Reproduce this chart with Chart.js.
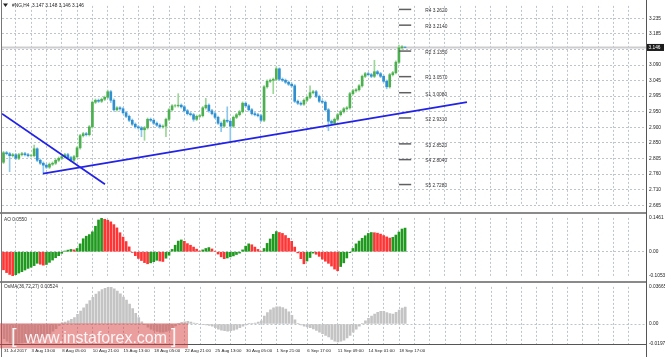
<!DOCTYPE html>
<html><head><meta charset="utf-8">
<script src="https://cdn.jsdelivr.net/npm/chart.js@4/dist/chart.umd.min.js"></script>
<style>
html,body{margin:0;padding:0;background:#fff;width:665px;height:357px;overflow:hidden}
canvas{position:absolute;left:0}
</style></head><body>
<canvas id="main" width="665" height="212" style="top:0"></canvas>
<canvas id="ao" width="665" height="70" style="top:212px"></canvas>
<canvas id="osma" width="665" height="76" style="top:281px"></canvas>
<script>
// ---------- DATA ----------
const SYMBOL_HEADER = '#NG,H4  3.147 3.148 3.146 3.146';
const LAST_PRICE = 3.146;
const OPEN = [2.796,2.825,2.822,2.816,2.819,2.808,2.819,2.822,2.819,2.816,
 2.816,2.837,2.802,2.793,2.787,2.781,2.790,2.793,2.802,2.808,
 2.813,2.819,2.810,2.802,2.813,2.840,2.877,2.883,2.880,2.904,
 2.979,2.985,2.982,2.988,2.994,3.011,2.985,2.956,2.962,2.959,
 2.947,2.936,2.924,2.912,2.904,2.901,2.895,2.901,2.927,2.924,
 2.915,2.909,2.904,2.906,2.927,2.956,2.968,2.968,2.970,2.965,
 2.953,2.944,2.941,2.927,2.936,2.938,2.962,2.970,2.953,2.944,
 2.933,2.915,2.906,2.924,2.921,2.906,2.933,2.941,2.950,2.976,
 2.968,2.956,2.944,2.941,2.938,2.924,3.026,3.043,3.046,3.049,
 3.081,3.049,3.046,3.040,3.034,3.029,2.982,2.976,2.973,2.985,
 2.994,3.008,3.011,2.997,2.982,2.979,2.956,2.921,2.915,2.927,
 2.941,2.950,2.959,2.962,3.005,3.014,3.017,3.029,3.058,3.066,
 3.063,3.058,3.072,3.066,3.058,3.043,3.026,3.063,3.069,3.101,
 3.145,3.147];
const HIGH = [2.829,2.829,2.826,2.823,2.823,2.823,2.826,2.826,2.823,2.820,
 2.848,2.840,2.806,2.797,2.791,2.794,2.797,2.806,2.812,2.817,
 2.823,2.823,2.814,2.817,2.844,2.881,2.887,2.887,2.908,2.983,
 2.989,2.989,2.992,2.998,3.016,3.015,2.989,2.966,2.966,2.963,
 2.951,2.940,2.928,2.916,2.908,2.905,2.905,2.931,2.931,2.928,
 2.919,2.913,2.910,2.931,2.960,2.972,2.972,3.005,2.974,2.969,
 2.957,2.948,2.945,2.940,2.942,2.966,2.991,2.974,2.957,2.948,
 2.937,2.919,2.928,2.965,2.925,2.937,2.945,2.954,2.980,2.980,
 2.972,2.960,2.948,2.945,2.942,3.030,3.047,3.050,3.053,3.087,
 3.084,3.053,3.050,3.044,3.038,3.033,2.986,2.980,2.989,2.998,
 3.029,3.015,3.015,3.001,2.986,2.983,2.960,2.925,2.931,2.945,
 2.954,2.963,2.966,3.009,3.018,3.021,3.033,3.062,3.070,3.070,
 3.067,3.107,3.076,3.070,3.062,3.047,3.067,3.073,3.105,3.153,
 3.152,3.148];
const LOW = [2.792,2.818,2.767,2.812,2.804,2.804,2.815,2.815,2.812,2.812,
 2.812,2.798,2.789,2.761,2.777,2.777,2.786,2.789,2.798,2.804,
 2.809,2.806,2.798,2.798,2.809,2.836,2.873,2.876,2.876,2.900,
 2.975,2.978,2.978,2.984,2.990,2.978,2.952,2.952,2.955,2.943,
 2.932,2.920,2.908,2.900,2.897,2.874,2.863,2.897,2.920,2.911,
 2.905,2.900,2.900,2.874,2.923,2.952,2.964,2.964,2.961,2.949,
 2.940,2.937,2.921,2.923,2.932,2.934,2.958,2.949,2.940,2.929,
 2.911,2.889,2.902,2.917,2.860,2.902,2.929,2.937,2.946,2.964,
 2.952,2.940,2.937,2.934,2.920,2.920,3.022,3.039,3.005,3.045,
 3.045,3.042,3.036,3.030,3.025,2.978,2.972,2.969,2.969,2.981,
 2.990,3.004,2.993,2.978,2.975,2.952,2.892,2.911,2.911,2.923,
 2.937,2.946,2.955,2.958,3.001,3.010,3.013,3.025,3.054,3.059,
 3.054,3.054,3.062,3.054,3.039,3.020,3.022,3.059,3.065,3.097,
 3.141,3.146];
const CLOSE = [2.825,2.822,2.816,2.819,2.808,2.819,2.822,2.819,2.816,2.816,
 2.837,2.802,2.793,2.787,2.781,2.790,2.793,2.802,2.808,2.813,
 2.819,2.810,2.802,2.813,2.840,2.877,2.883,2.880,2.904,2.979,
 2.985,2.982,2.988,2.994,3.011,2.985,2.956,2.962,2.959,2.947,
 2.936,2.924,2.912,2.904,2.901,2.895,2.901,2.927,2.924,2.915,
 2.909,2.904,2.906,2.927,2.956,2.968,2.968,2.970,2.965,2.953,
 2.944,2.941,2.927,2.936,2.938,2.962,2.970,2.953,2.944,2.933,
 2.915,2.906,2.924,2.921,2.906,2.933,2.941,2.950,2.976,2.968,
 2.956,2.944,2.941,2.938,2.924,3.026,3.043,3.046,3.049,3.081,
 3.049,3.046,3.040,3.034,3.029,2.982,2.976,2.973,2.985,2.994,
 3.008,3.011,2.997,2.982,2.979,2.956,2.921,2.915,2.927,2.941,
 2.950,2.959,2.962,3.005,3.014,3.017,3.029,3.058,3.066,3.063,
 3.058,3.072,3.066,3.058,3.043,3.026,3.063,3.069,3.101,3.145,
 3.148,3.146];
const AO = [-0.078,-0.090,-0.098,-0.1053,-0.099,-0.092,-0.086,-0.079,-0.072,-0.067,
 -0.060,-0.050,-0.054,-0.058,-0.055,-0.046,-0.036,-0.026,-0.017,-0.007,
 0.003,0.007,0.010,0.008,0.014,0.034,0.056,0.067,0.074,0.086,
 0.110,0.137,0.1461,0.140,0.136,0.129,0.117,0.103,0.082,0.063,
 0.044,0.021,-0.003,-0.017,-0.029,-0.038,-0.047,-0.052,-0.048,-0.043,
 -0.037,-0.040,-0.042,-0.028,-0.015,0.010,0.028,0.046,0.051,0.045,
 0.035,0.028,0.020,0.011,0.003,0.008,0.014,0.018,0.012,0.002,
 -0.010,-0.022,-0.030,-0.027,-0.022,-0.018,-0.012,-0.006,0.008,0.024,
 0.034,0.030,0.020,0.010,0.002,0.014,0.036,0.055,0.075,0.087,
 0.083,0.079,0.070,0.058,0.045,0.020,-0.005,-0.030,-0.052,-0.040,
 -0.025,-0.006,-0.011,-0.020,-0.032,-0.041,-0.050,-0.062,-0.075,-0.082,
 -0.064,-0.048,-0.027,-0.004,0.014,0.034,0.046,0.058,0.069,0.079,
 0.083,0.082,0.080,0.076,0.070,0.064,0.059,0.062,0.072,0.085,
 0.098,0.102];
const OSMA = [-0.0145,-0.0170,-0.0186,-0.0197,-0.0195,-0.0190,-0.0186,-0.0183,-0.0179,-0.0173,
 -0.0163,-0.0154,-0.0144,-0.0128,-0.0109,-0.0096,-0.0071,-0.0045,-0.0013,0.0013,
 0.0019,0.0032,0.0045,0.0064,0.0096,0.0128,0.0160,0.0197,0.0232,0.0264,
 0.0296,0.0321,0.0341,0.0353,0.0366,0.0361,0.0347,0.0325,0.0299,0.0267,
 0.0235,0.0197,0.0153,0.0105,0.0064,0.0022,-0.0006,-0.0032,-0.0051,-0.0064,
 -0.0073,-0.0080,-0.0080,-0.0073,-0.0064,-0.0041,-0.0019,0.0003,0.0016,0.0022,
 0.0026,0.0019,0.0010,0.0003,-0.0003,-0.0006,-0.0010,-0.0013,-0.0022,-0.0035,
 -0.0051,-0.0061,-0.0067,-0.0070,-0.0067,-0.0061,-0.0051,-0.0035,-0.0022,-0.0010,
 0.0003,0.0006,0.0010,0.0019,0.0032,0.0077,0.0112,0.0141,0.0160,0.0169,
 0.0169,0.0163,0.0147,0.0121,0.0086,0.0041,0.0006,-0.0010,-0.0022,-0.0029,
 -0.0035,-0.0048,-0.0064,-0.0080,-0.0096,-0.0112,-0.0128,-0.0153,-0.0169,-0.0176,
 -0.0169,-0.0160,-0.0137,-0.0112,-0.0080,-0.0051,-0.0022,0.0006,0.0032,0.0057,
 0.0077,0.0099,0.0115,0.0125,0.0125,0.0112,0.0102,0.0099,0.0115,0.0138,
 0.0157,0.0166];
const PIVOT_NAMES = ['R4','R3','R2','R1','S1','S2','S3','S4','S5'];
const PIVOT_VALUES = [3.2620,3.2140,3.1350,3.0570,3.0080,2.9310,2.8520,2.8040,2.7280];
const PIVOT_X = [129, 133];
const TREND_DOWN_X = [-0.49, 33.1], TREND_DOWN_Y = [2.944, 2.729];
const TREND_UP_X = [12.9, 151.2],  TREND_UP_Y = [2.761, 2.979];
const PRICE_TICKS = [3.235,3.1875,3.14,3.0925,3.045,2.9975,2.95,2.9025,2.855,2.8075,2.76,2.7125,2.665];
const PRICE_TICK_LABELS = ['3.235','3.185','3.140','3.090','3.045','2.995','2.950','2.900','2.850','2.805','2.760','2.710','2.665'];
const AO_TICKS = [0.1461, 0, -0.1053], AO_TICK_LABELS = ['0.1461','0.00','-0.1053'];
const OSMA_TICKS = [0.03665, 0, -0.01974], OSMA_TICK_LABELS = ['0.03665','0.00','-0.01974'];
const AO_LABEL = 'AO 0.0550';
const OSMA_LABEL = 'OsMA(36,72,27) 0.00524';
const TIME_TICK_INDEX = [0,9,19,29,39,49,59,69,79,89,99,109,119,129];
const TIME_TICK_LABELS = ['31 Jul 2017','3 Aug 13:00','8 Aug 05:00','10 Aug 21:00','15 Aug 13:00','18 Aug 05:00','22 Aug 21:00','25 Aug 13:00','30 Aug 05:00','1 Sep 21:00','6 Sep 17:00','11 Sep 09:00','14 Sep 01:00','18 Sep 17:00'];
const GRID_TICKS = [4,9,14,19,24,29,34,39,44,49,54,59,64,69,74,79,84,89,94,99,104,109,114,119,124,129,134,139,144,149,154,159,164,169,174,179,184,189,194,199,204];

// ---------- STYLE ----------
const FONT = "'Liberation Sans', Arial, sans-serif";
const GRID = '#bcc4cd';
const UP = '#4caf50', DOWN = '#2f8fcf', UPW = '#9ad696', DOWNW = '#8cc8ec';
const XMIN = -0.49, XMAX = 209.6;
const TXT = 4.8, XTXT = 4.4;
Chart.defaults.animation = false;
Chart.defaults.font.family = FONT;

function xScale(withLabels){
  return {
    type:'linear', min:XMIN, max:XMAX, offset:false,
    afterBuildTicks: s => { s.ticks = (withLabels ? [0].concat(GRID_TICKS) : GRID_TICKS).map(v => ({value:v})); },
    afterFit: s => { s.height = withLabels ? 13 : 0; },
    grid:{ offset:false, drawTicks:false, lineWidth:1,
      color: c => (c.tick && c.tick.value === 0) ? 'rgba(0,0,0,0)' : GRID },
    border:{ display:false, dash:[2,2] },
    ticks:{ display:withLabels, autoSkip:false, maxRotation:0, minRotation:0, align:'start', padding:4,
      font:{size:XTXT, family:FONT}, color:'#222',
      callback: v => { const k = TIME_TICK_INDEX.indexOf(v); return k >= 0 ? TIME_TICK_LABELS[k] : ''; } }
  };
}
function yScale(min, max, ticks, labels, allGrid){
  return {
    position:'right', min:min, max:max,
    afterBuildTicks: s => { s.ticks = ticks.map(v => ({value:v})); },
    afterFit: s => { s.width = 19; },
    grid:{ drawTicks:false, lineWidth:1, color: c => (allGrid || (c.tick && c.tick.value === 0)) ? GRID : 'rgba(0,0,0,0)' },
    border:{ display:false, dash:[2,2] },
    ticks:{ padding:3, font:{size:TXT, family:FONT}, color:'#222',
      callback: v => { const k = ticks.indexOf(v); return k >= 0 ? labels[k] : ''; } }
  };
}
function frame(ctx, chart, top){
  ctx.fillStyle = '#8a8a8a';
  if (top) ctx.fillRect(0, 0, 646, 2);
  ctx.fillStyle = '#555';
  ctx.fillRect(646, 0, 1, chart.height);
  ctx.fillStyle = '#777';
  ctx.fillRect(1, 0, 1, chart.height);
}
const baseOpts = {
  responsive:false, devicePixelRatio:1, animation:false,
  plugins:{ legend:{display:false}, tooltip:{enabled:false} }
};

// ---------- MAIN PRICE CHART ----------
const mainDecor = {
  id:'mainDecor',
  afterDraw(chart){
    const {ctx, scales:{x, y}} = chart;
    ctx.save();
    frame(ctx, chart, false);
    ctx.font = TXT + 'px ' + FONT; ctx.fillStyle = '#333'; ctx.textBaseline = 'middle'; ctx.textAlign = 'left';
    const lx = x.getPixelForValue(PIVOT_X[1]) + 14;
    PIVOT_NAMES.forEach((n, k) => ctx.fillText(n + ' ' + PIVOT_VALUES[k].toFixed(4), lx, y.getPixelForValue(PIVOT_VALUES[k]) + 1.5));
    ctx.fillStyle = '#222';
    ctx.beginPath(); ctx.moveTo(3, 3.5); ctx.lineTo(8, 3.5); ctx.lineTo(5.5, 7); ctx.closePath(); ctx.fill();
    ctx.fillText(SYMBOL_HEADER, 12, 5.5);
    const py = y.getPixelForValue(LAST_PRICE);
    ctx.fillStyle = '#1c1c1c'; ctx.fillRect(647, py - 3.5, 17, 7);
    ctx.fillStyle = '#fff'; ctx.fillText(LAST_PRICE.toFixed(3), 648.5, py + 0.3);
    ctx.restore();
  }
};
new Chart(document.getElementById('main'), {
  type:'bar',
  data:{ datasets:[
    { type:'line', data:[{x:XMIN, y:LAST_PRICE},{x:XMAX, y:LAST_PRICE}], borderColor:'#cdcdcd', borderWidth:2, pointRadius:0, order:10 },
    { data: CLOSE.map((c, i) => ({x:i, y:[LOW[i], HIGH[i]]})), barThickness:1, grouped:false,
      backgroundColor: c => CLOSE[c.dataIndex] >= OPEN[c.dataIndex] ? UPW : DOWNW, order:6 },
    { data: CLOSE.map((c, i) => ({x:i, y:[OPEN[i], c]})), barThickness:2, grouped:false,
      backgroundColor: c => CLOSE[c.dataIndex] >= OPEN[c.dataIndex] ? UP : DOWN, order:5 },
    { type:'line', data: TREND_DOWN_X.map((v, k) => ({x:v, y:TREND_DOWN_Y[k]})), borderColor:'#2323e6', borderWidth:1.8, pointRadius:0, order:1 },
    { type:'line', data: TREND_UP_X.map((v, k) => ({x:v, y:TREND_UP_Y[k]})), borderColor:'#2323e6', borderWidth:1.8, pointRadius:0, order:1 },
    ...PIVOT_VALUES.map(v => ({ type:'line', data: PIVOT_X.map(px => ({x:px, y:v})), borderColor:'#606060', borderWidth:1.5, pointRadius:0, order:2 }))
  ]},
  options: Object.assign({}, baseOpts, {
    layout:{ padding:{left:2, right:0, top:1, bottom:1} },
    scales:{ x: xScale(false), y: yScale(2.6622, 3.2728, PRICE_TICKS, PRICE_TICK_LABELS, true) }
  }),
  plugins:[mainDecor]
});

// ---------- AO ----------
const aoDecor = {
  id:'aoDecor',
  afterDraw(chart){
    const {ctx} = chart;
    ctx.save(); frame(ctx, chart, true);
    ctx.font = TXT + 'px ' + FONT; ctx.fillStyle = '#333'; ctx.textBaseline = 'middle';
    ctx.fillText(AO_LABEL, 4, 7.5);
    ctx.restore();
  }
};
new Chart(document.getElementById('ao'), {
  type:'bar',
  data:{ datasets:[{ data: AO.map((v, i) => ({x:i, y:v})), barThickness:2, grouped:false,
    backgroundColor: c => (c.dataIndex > 0 && AO[c.dataIndex] > AO[c.dataIndex - 1]) ? '#1f9a1f' : '#ff3434' }] },
  options: Object.assign({}, baseOpts, {
    layout:{ padding:{left:2, right:0, top:5.8, bottom:3.1} },
    scales:{ x: xScale(false), y: yScale(-0.1053, 0.1461, AO_TICKS, AO_TICK_LABELS, false) }
  }),
  plugins:[aoDecor]
});

// ---------- OsMA ----------
const osmaDecor = {
  id:'osmaDecor',
  afterDraw(chart){
    const {ctx, chartArea} = chart;
    ctx.save(); frame(ctx, chart, true);
    ctx.fillStyle = '#555'; ctx.fillRect(0, chartArea.bottom, 647, 1);
    ctx.font = TXT + 'px ' + FONT; ctx.fillStyle = '#333'; ctx.textBaseline = 'middle';
    ctx.fillText(OSMA_LABEL, 4, 6);
    ctx.fillStyle = 'rgba(214,62,62,0.5)'; ctx.fillRect(0, 42.3, 188, 25);
    ctx.fillStyle = 'rgba(255,255,255,0.9)'; ctx.textBaseline = 'alphabetic';
    ctx.font = '20px ' + FONT;
    ctx.fillText('[', 11, 62);
    ctx.fillText(']', 171, 62);
    ctx.font = '17px ' + FONT;
    ctx.fillText('www.instaforex.com', 25, 62, 142);
    ctx.restore();
  }
};
new Chart(document.getElementById('osma'), {
  type:'bar',
  data:{ datasets:[{ data: OSMA.map((v, i) => ({x:i, y:v})), barThickness:2, grouped:false, backgroundColor:'#c4c4c4' }] },
  options: Object.assign({}, baseOpts, {
    layout:{ padding:{left:2, right:0, top:4, bottom:0} },
    scales:{ x: xScale(true), y: yScale(-0.01974, 0.03665, OSMA_TICKS, OSMA_TICK_LABELS, false) }
  }),
  plugins:[osmaDecor]
});
</script>
</body></html>
